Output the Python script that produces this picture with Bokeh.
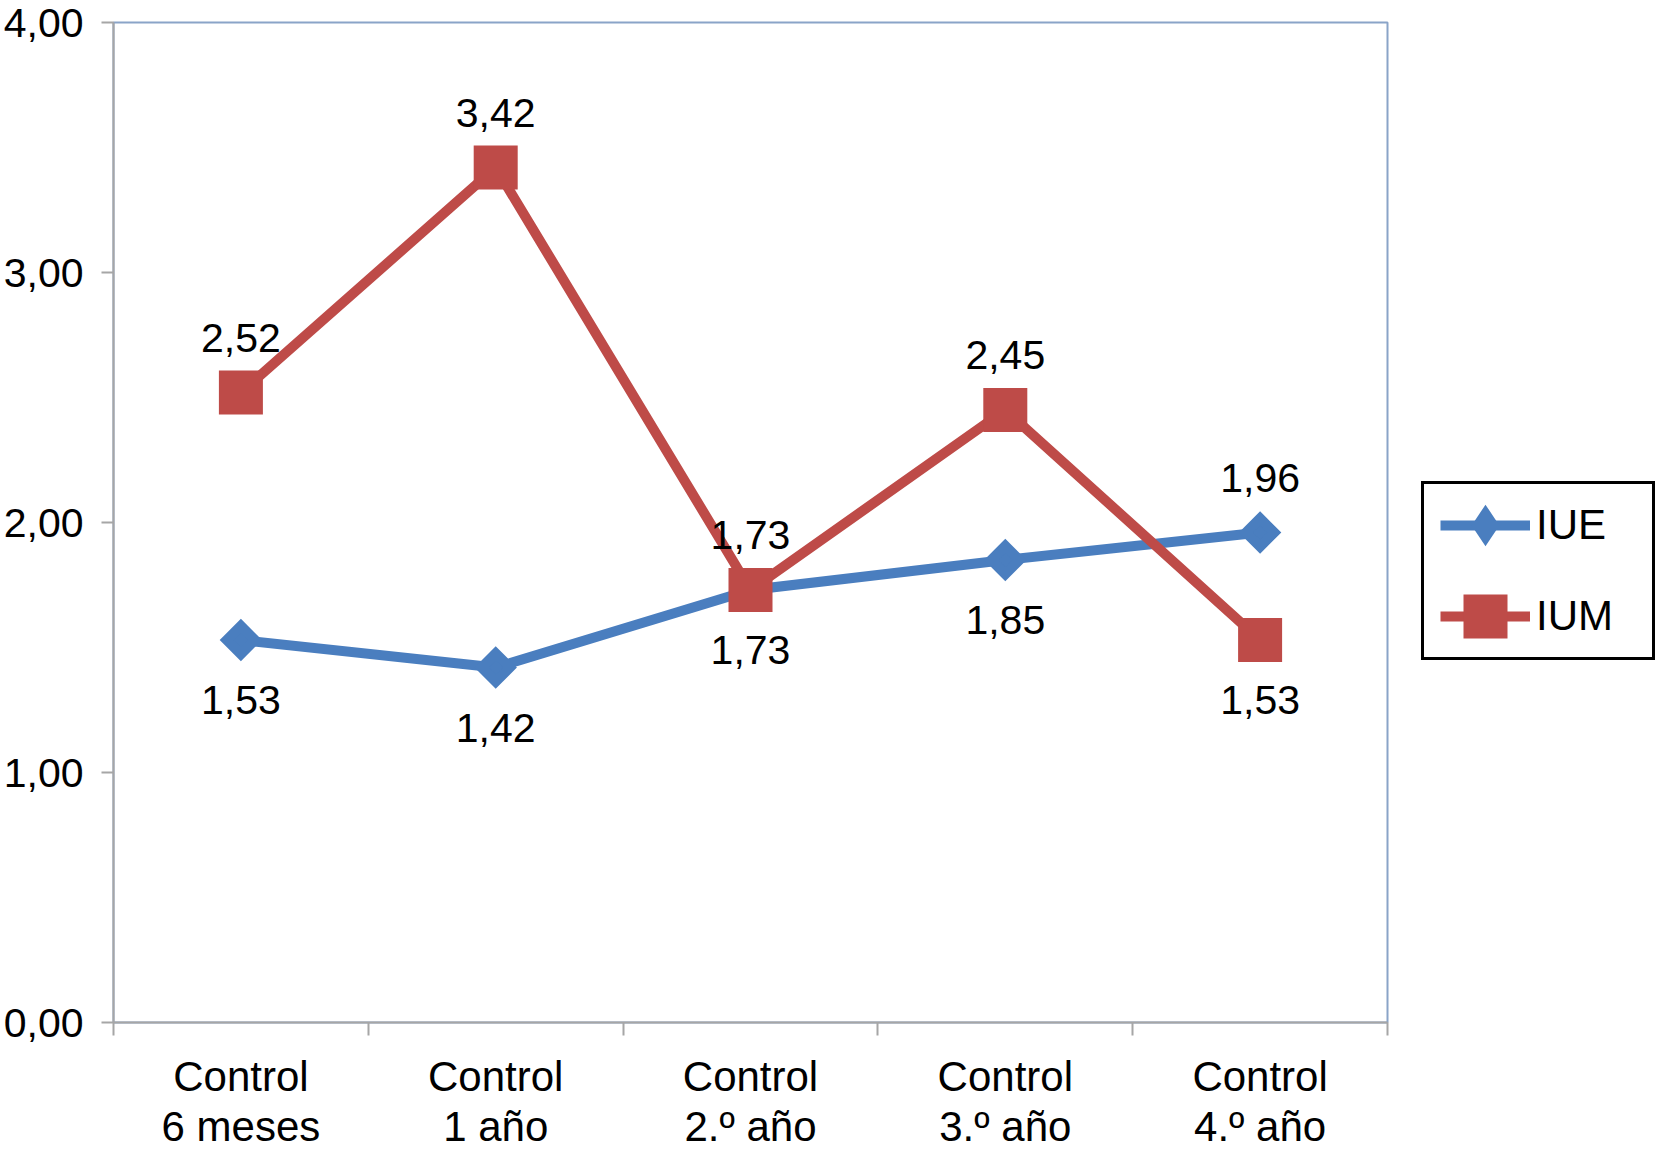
import numpy as np
from bokeh.plotting import figure
from bokeh.layouts import row
from bokeh.models import FixedTicker, Range1d, Legend, LegendItem, ColumnDataSource
from bokeh.core.properties import value
from bokeh.embed import file_html
from bokeh.resources import INLINE

# ---- data ----
categories = ["Control\n6 meses", "Control\n1 año", "Control\n2.º año",
              "Control\n3.º año", "Control\n4.º año"]
series_names = ["IUE", "IUM"]
iue = [1.53, 1.42, 1.73, 1.85, 1.96]
ium = [2.52, 3.42, 1.73, 2.45, 1.53]
y_ticks = [0, 1, 2, 3, 4]
y_tick_labels = ["0,00", "1,00", "2,00", "3,00", "4,00"]
iue_label_side = ["below", "below", "below", "below", "above"]
ium_label_side = ["above", "above", "above", "above", "below"]

# ---- style ----
FONT = "Liberation Sans"
BLUE = "#4A7EBF"
RED = "#BE4B48"
GRAY = "#A6A6A6"
BORDER = "#8AA4C8"

n = len(categories)
xs = [i + 0.5 for i in range(n)]
bounds = list(range(n + 1))

W, H = 1656, 1161
LEG_W = 256
MAIN_W = W - LEG_W

p = figure(width=MAIN_W, height=H, x_range=Range1d(0, n), y_range=Range1d(0, 4),
           output_backend="svg", toolbar_location=None,
           min_border_left=111, min_border_right=MAIN_W - 1387,
           min_border_top=22, min_border_bottom=H - 1022)
p.xgrid.visible = False
p.ygrid.visible = False
p.outline_line_color = BORDER
p.outline_line_width = 2
p.background_fill_color = "white"

xa = p.xaxis[0]
xa.ticker = FixedTicker(ticks=xs, minor_ticks=bounds)
xa.major_label_overrides = {x: c for x, c in zip(xs, categories)}
xa.major_tick_line_color = None
xa.major_tick_out = 0
xa.major_tick_in = 0
xa.minor_tick_line_color = GRAY
xa.minor_tick_line_width = 2
xa.minor_tick_out = 13
xa.minor_tick_in = 0
xa.axis_line_color = GRAY
xa.axis_line_width = 2
xa.major_label_text_font = FONT
xa.major_label_text_font_size = "42px"
xa.major_label_text_line_height = 1.07
xa.major_label_text_color = "black"
xa.major_label_standoff = 17

ya = p.yaxis[0]
ya.ticker = FixedTicker(ticks=y_ticks, minor_ticks=[])
ya.major_label_overrides = {t: l for t, l in zip(y_ticks, y_tick_labels)}
ya.major_tick_line_color = GRAY
ya.major_tick_line_width = 2
ya.major_tick_out = 12
ya.major_tick_in = 0
ya.minor_tick_line_color = None
ya.axis_line_color = GRAY
ya.axis_line_width = 2
ya.major_label_text_font = FONT
ya.major_label_text_font_size = "41px"
ya.major_label_text_color = "black"
ya.major_label_standoff = 18

p.line(xs, iue, line_color=BLUE, line_width=10)
p.scatter(xs, iue, marker="square", angle=np.pi / 4, size=20,
          fill_color=BLUE, line_color=BLUE, line_width=10, line_join="miter")
p.line(xs, ium, line_color=RED, line_width=10)
p.scatter(xs, ium, marker="square", size=20,
          fill_color=RED, line_color=RED, line_width=24, line_join="miter")

def fmt(v):
    return f"{v:.2f}".replace(".", ",")

for vals, sides in ((iue, iue_label_side), (ium, ium_label_side)):
    src = ColumnDataSource(dict(
        x=xs, y=vals, t=[fmt(v) for v in vals],
        off=[60 if s == "below" else -55 for s in sides]))
    p.text(x="x", y="y", text="t", y_offset="off", source=src,
           text_align="center", text_baseline="middle",
           text_font=value(FONT), text_font_size="41px", text_color="black")

# ---- legend panel (separate figure to the right of the plot; its frame is
#      aligned with the plot frame, its data view lies above the series) ----
q = figure(width=LEG_W, height=H, x_range=Range1d(0, n), y_range=Range1d(10, 11),
           output_backend="svg", toolbar_location=None,
           x_axis_location=None, y_axis_location=None,
           min_border_left=0, min_border_right=0, min_border_top=0, min_border_bottom=0)
q.xgrid.visible = False
q.ygrid.visible = False
q.outline_line_color = None
q.background_fill_color = "white"
q.border_fill_color = "white"

ql1 = q.line(xs, iue, line_color=BLUE, line_width=10)
qs1 = q.scatter(xs, iue, marker="diamond", size=20,
                fill_color=BLUE, line_color=BLUE, line_width=12, line_join="miter")
ql2 = q.line(xs, ium, line_color=RED, line_width=10)
qs2 = q.scatter(xs, ium, marker="square", size=20,
                fill_color=RED, line_color=RED, line_width=24, line_join="miter")

legend = Legend(items=[LegendItem(label=series_names[0], renderers=[ql1, qs1]),
                       LegendItem(label=series_names[1], renderers=[ql2, qs2])],
                location=(1421 - MAIN_W, 1022 - 660), orientation="vertical",
                glyph_width=90, glyph_height=50, label_standoff=6, label_width=100,
                padding=16, spacing=41, margin=0,
                border_line_color="black", border_line_width=3, border_line_alpha=1,
                background_fill_color="white", background_fill_alpha=1,
                label_text_font=FONT, label_text_font_size="42px",
                label_text_color="black", label_text_baseline="middle")
q.add_layout(legend, "center")

layout = row(p, q, spacing=0)
open("out.html", "w").write(file_html(layout, INLINE))
